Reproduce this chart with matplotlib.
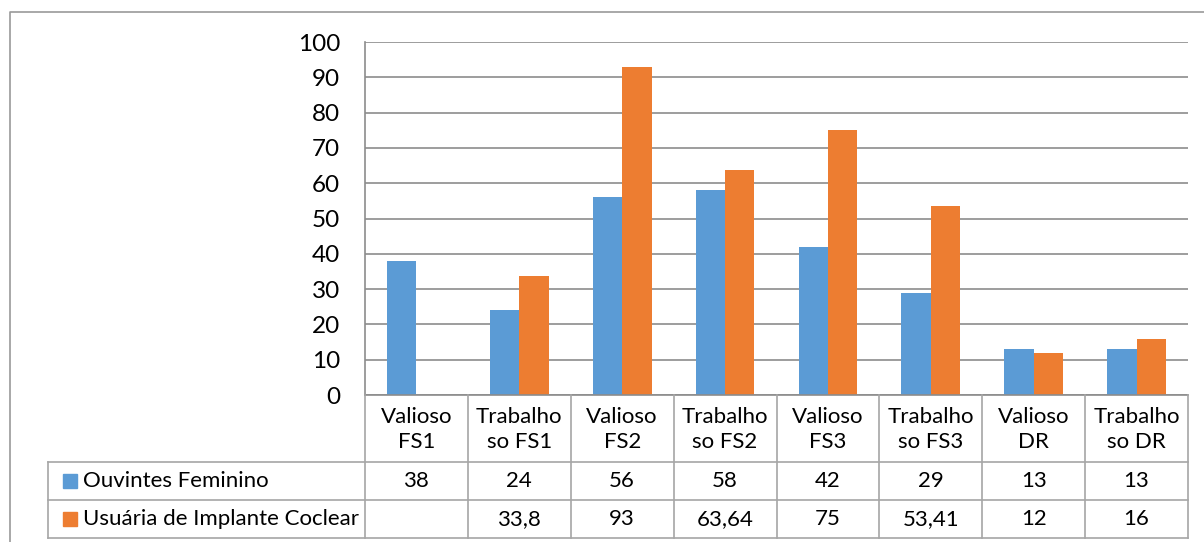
import numpy as np
import matplotlib
matplotlib.use("Agg")
from matplotlib import pyplot as plt
from matplotlib.lines import Line2D

plt.rcParams['font.family'] = ['Lato', 'DejaVu Sans']

categories = ["Valioso\nFS1", "Trabalho\nso FS1", "Valioso\nFS2", "Trabalho\nso FS2",
              "Valioso\nFS3", "Trabalho\nso FS3", "Valioso\nDR", "Trabalho\nso DR"]
ouvintes = [38, 24, 56, 58, 42, 29, 13, 13]
implante = [np.nan, 33.8, 93, 63.64, 75, 53.41, 12, 16]
series_names = ["Ouvintes Feminino", "Usuária de Implante Coclear"]
colors = ["#5B9BD5", "#ED7D31"]
yticks = [0, 10, 20, 30, 40, 50, 60, 70, 80, 90, 100]

W, H = 1204, 542
fig = plt.figure(figsize=(W / 100, H / 100), dpi=100)

# px helpers
def ax_rect(x0, y0, x1, y1):
    return [x0 / W, (H - y1) / H, (x1 - x0) / W, (y1 - y0) / H]

grid_c = "#8C8C8C"

# outer chart border (cropped)
fig.add_artist(Line2D([10 / W, 10 / W, 1], [0, 1 - 12 / H, 1 - 12 / H],
                      transform=fig.transFigure, color="#9A9A9A", lw=1.2))

ax = fig.add_axes(ax_rect(365, 42, 1188, 395))
x = np.arange(len(categories))
bw = 0.286
ax.bar(x - bw / 2, ouvintes, bw, color=colors[0], zorder=3)
ax.bar(x + bw / 2, implante, bw, color=colors[1], zorder=3)
ax.set_xlim(-0.5, len(categories) - 0.5)
ax.set_ylim(0, 100)
ax.set_yticks(yticks)
ax.set_yticklabels([str(t) for t in yticks], fontsize=17.5)
ax.tick_params(axis='y', length=0, pad=18)
ax.set_xticks([])
ax.yaxis.grid(True, color=grid_c, lw=1.2, zorder=0)
for s in ["top", "right", "bottom"]:
    ax.spines[s].set_visible(False)
ax.spines["left"].set_color(grid_c)
ax.spines["left"].set_linewidth(1.2)

# data table
tx0, tx1 = 48, 1188
ax_left, col_w = 365, (1188 - 365) / len(categories)
y_top, y_r1, y_r2, y_bot = 395, 462, 500, 538
tab = fig.add_axes(ax_rect(tx0, y_top, tx1, y_bot))
tab.set_xlim(tx0, tx1)
tab.set_ylim(y_bot, y_top)
tab.axis("off")

lc = "#A6A6A6"
tab.plot([ax_left, tx1], [y_top, y_top], color=grid_c, lw=1.2, clip_on=False)
for yy in [y_r1, y_r2, y_bot]:
    tab.plot([tx0, tx1], [yy, yy], color=lc, lw=1.2, clip_on=False)
tab.plot([tx0, tx0], [y_r1, y_bot], color=lc, lw=1.2, clip_on=False)
for i in range(len(categories) + 1):
    xx = ax_left + i * col_w
    tab.plot([xx, xx], [y_top, y_bot], color=lc, lw=1.2, clip_on=False)


def fmt(v):
    if np.isnan(v):
        return ""
    return ("%g" % v).replace(".", ",")


fs = 16
for i, cat in enumerate(categories):
    cx = ax_left + (i + 0.5) * col_w
    tab.text(cx, (y_top + y_r1) / 2 + 1, cat, ha="center", va="center",
             fontsize=fs, linespacing=1.3)
    tab.text(cx, (y_r1 + y_r2) / 2, fmt(ouvintes[i]), ha="center", va="center", fontsize=fs)
    tab.text(cx, (y_r2 + y_bot) / 2, fmt(implante[i]), ha="center", va="center", fontsize=fs)

for j, (name, c) in enumerate(zip(series_names, colors)):
    yc = (y_r1 + y_r2) / 2 if j == 0 else (y_r2 + y_bot) / 2
    tab.add_patch(plt.Rectangle((63, yc - 7), 14, 14, color=c))
    tab.text(83, yc, name, ha="left", va="center", fontsize=fs)

fig.savefig("out.png", dpi=100)
